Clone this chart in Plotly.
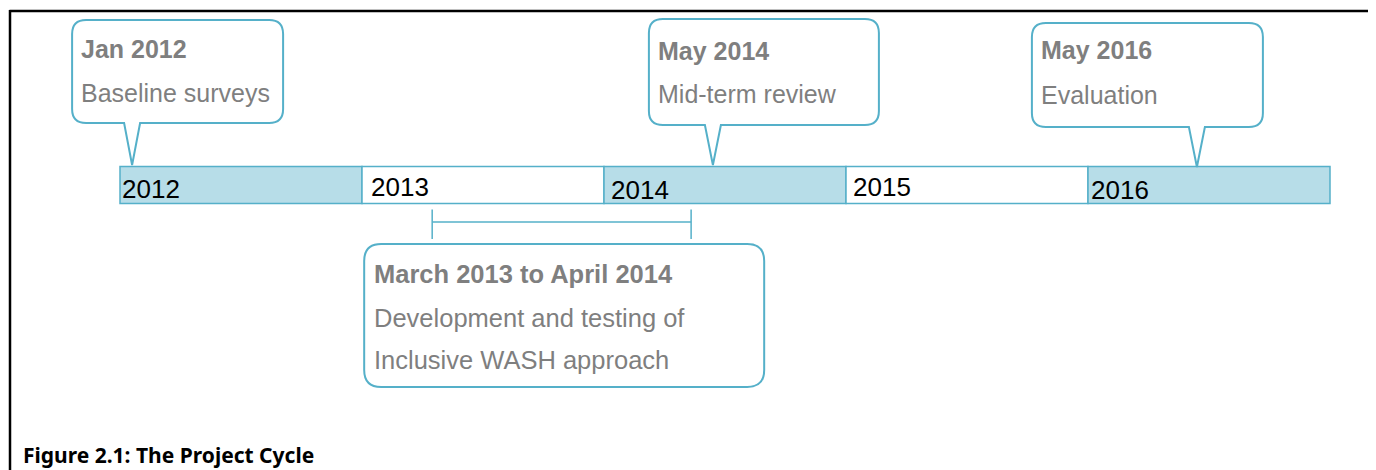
import plotly.graph_objects as go

# ---------------- data ----------------
years = [2012, 2013, 2014, 2015, 2016]
year_labels = ["2012", "2013", "2014", "2015", "2016"]

event_titles = ["Jan 2012", "May 2014", "May 2016"]
event_texts = ["Baseline surveys", "Mid-term review", "Evaluation"]
event_times = [2012.05, 2014.45, 2016.45]   # decimal years

range_title = "March 2013 to April 2014"
range_text = ["Development and testing of", "Inclusive WASH approach"]
range_start = 2013.29
range_end = 2014.36

caption = "Figure 2.1: The Project Cycle"

# ---------------- style ----------------
W, H = 1376, 470
OFF = 8                # page body margin of the html page
ORIGIN_PX = 120.0      # page pixel of 2012 start
YEAR_PX = 242.0        # pixels per year
LINE = "#55b0c9"
FILL = "#b7dde8"
GRAY = "#7f7f7f"
FONT = "Liberation Sans"
FW, FH = W - OFF, H - OFF


def px(t):
    return ORIGIN_PX + (t - years[0]) * YEAR_PX


def tx(p):
    return years[0] + (p - ORIGIN_PX) / YEAR_PX


def paper_x(p):
    return (p - OFF) / FW


fig = go.Figure()

shapes = []
annotations = []

# frame (top & left)
shapes.append(dict(type="line", xref="paper", yref="y", x0=paper_x(9.5), x1=1.0, y0=11, y1=11,
                   line=dict(color="black", width=2.5)))
shapes.append(dict(type="line", xref="paper", yref="y", x0=paper_x(10), x1=paper_x(10), y0=10, y1=H,
                   line=dict(color="black", width=2.5)))

# year blocks
label_dx = [0, 7, 5, 5, 1]
label_y = [189, 186.5, 189.5, 186.5, 189.5]
for i, (y, lab) in enumerate(zip(years, year_labels)):
    shapes.append(dict(type="rect", xref="x", yref="y", x0=y, x1=y + 1, y0=166.5, y1=203.5,
                       fillcolor=FILL if i % 2 == 0 else "white",
                       line=dict(color=LINE, width=1.5), layer="below"))
    annotations.append(dict(x=tx(px(y) + label_dx[i]), y=label_y[i], xref="x", yref="y",
                            text=lab, showarrow=False, xanchor="left", yanchor="middle",
                            font=dict(family=FONT, size=26, color="black")))


def callout_path(x0, x1, y0, y1, r, b0, b1, tipx, tipy):
    def P(a, b):
        return f"{tx(a):.6f},{b:.3f}"
    d = (f"M {P(x0 + r, y0)} L {P(x1 - r, y0)} Q {P(x1, y0)} {P(x1, y0 + r)} "
         f"L {P(x1, y1 - r)} Q {P(x1, y1)} {P(x1 - r, y1)} ")
    if b0 is not None:
        d += f"L {P(b1, y1)} L {P(tipx, tipy)} L {P(b0, y1)} "
    d += (f"L {P(x0 + r, y1)} Q {P(x0, y1)} {P(x0, y1 - r)} "
          f"L {P(x0, y0 + r)} Q {P(x0, y0)} {P(x0 + r, y0)} Z")
    return d


# callouts: (left offset, right offset, top, bottom, tip y)
callout_geom = [(-60, 151, 20, 123, 165),
                (-64, 166, 19, 125, 165),
                (-165, 66, 23, 127, 167)]
title_base = [58, 60, 59]
text_base = [102, 103, 104]
for t, title, txt, g, tb, xb in zip(event_times, event_titles, event_texts, callout_geom,
                                     title_base, text_base):
    tip = px(t)
    x0, x1, y0, y1, ty = tip + g[0], tip + g[1], g[2], g[3], g[4]
    shapes.append(dict(type="path", xref="x", yref="y",
                       path=callout_path(x0, x1, y0, y1, 14, tip - 8, tip + 8, tip, ty),
                       fillcolor="white", line=dict(color=LINE, width=2)))
    annotations.append(dict(x=tx(x0 + 7), y=tb - 8.6, xref="x", yref="y", text=f"<b>{title}</b>",
                            showarrow=False, xanchor="left", yanchor="middle",
                            font=dict(family=FONT, size=25, color=GRAY)))
    annotations.append(dict(x=tx(x0 + 7), y=xb - 8.6, xref="x", yref="y", text=txt,
                            showarrow=False, xanchor="left", yanchor="middle",
                            font=dict(family=FONT, size=25, color=GRAY)))

# range bracket
shapes.append(dict(type="line", xref="x", yref="y", x0=range_start, x1=range_end, y0=222, y1=222,
                   line=dict(color=LINE, width=1.5)))
for t in (range_start, range_end):
    shapes.append(dict(type="line", xref="x", yref="y", x0=t, x1=t, y0=209.5, y1=239,
                       line=dict(color=LINE, width=1.5)))

rs = px(range_start)
bx0, bx1 = rs - 68, rs + 332
shapes.append(dict(type="path", xref="x", yref="y",
                   path=callout_path(bx0, bx1, 244, 387, 17, None, None, None, None),
                   fillcolor="white", line=dict(color=LINE, width=2)))
annotations.append(dict(x=tx(bx0 + 8), y=283 - 8.8, xref="x", yref="y", text=f"<b>{range_title}</b>",
                        showarrow=False, xanchor="left", yanchor="middle",
                        font=dict(family=FONT, size=25.5, color=GRAY)))
for line_txt, base in zip(range_text, [327, 369]):
    annotations.append(dict(x=tx(bx0 + 8), y=base - 8.8, xref="x", yref="y", text=line_txt,
                            showarrow=False, xanchor="left", yanchor="middle",
                            font=dict(family=FONT, size=25.5, color=GRAY)))

# caption
annotations.append(dict(x=paper_x(21), y=455, xref="paper", yref="y", text=f"<b>{caption}</b>",
                        showarrow=False, xanchor="left", yanchor="middle",
                        font=dict(family="Noto Sans", size=21, color="black")))

fig.update_layout(
    width=FW, height=FH,
    margin=dict(l=0, r=0, t=0, b=0),
    paper_bgcolor="white", plot_bgcolor="white",
    xaxis=dict(range=[tx(OFF), tx(W)], visible=False, fixedrange=True),
    yaxis=dict(range=[H, OFF], visible=False, fixedrange=True),
    shapes=shapes, annotations=annotations,
    showlegend=False,
)

fig.write_html("out.html", config={"displayModeBar": False})
